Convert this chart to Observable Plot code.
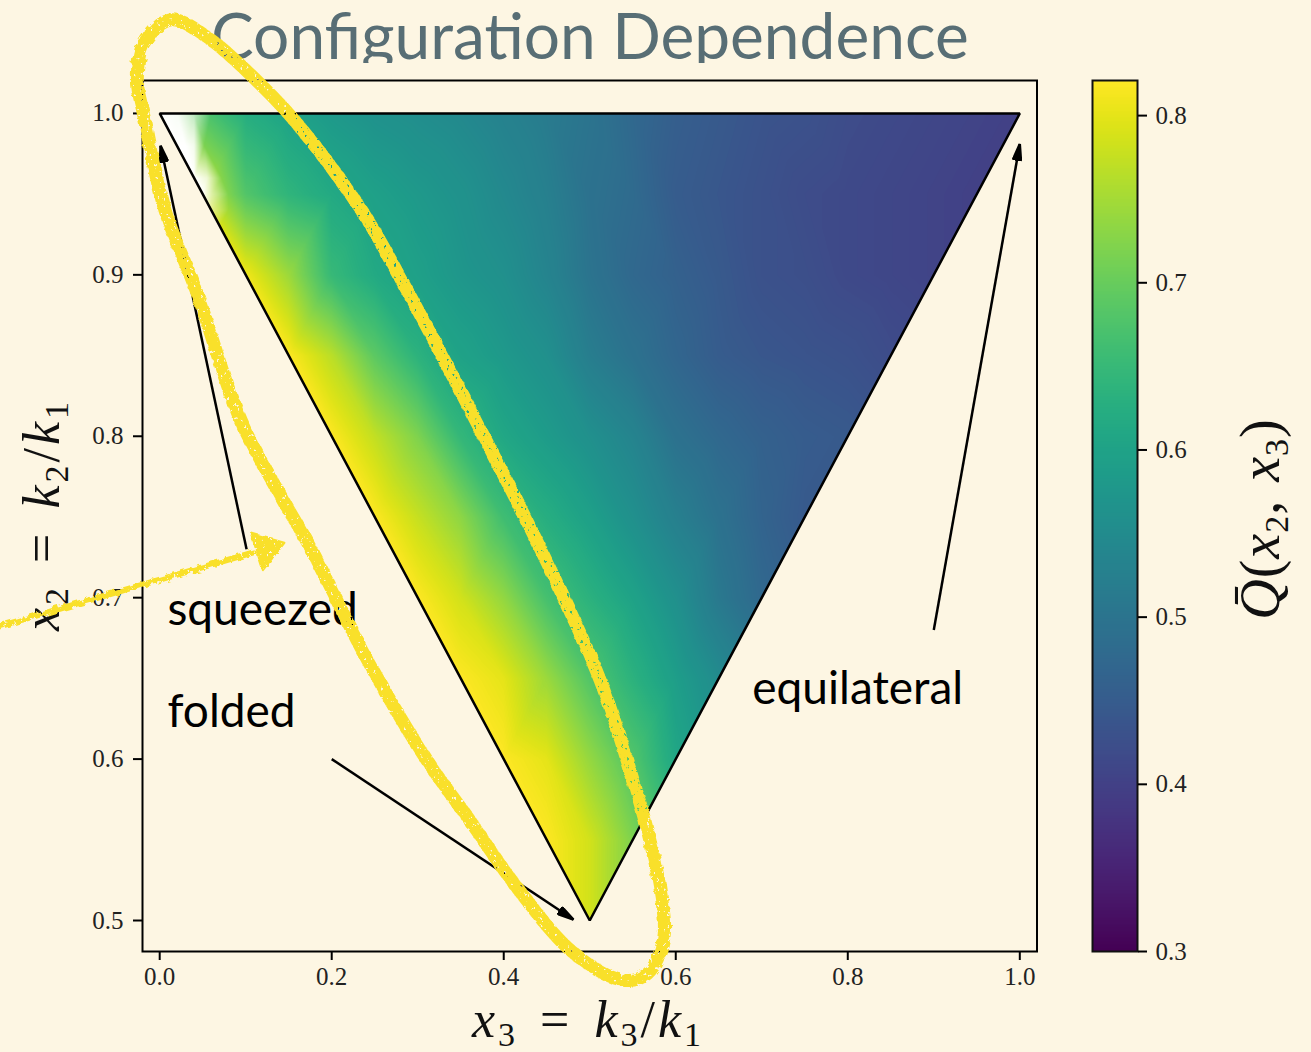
<!DOCTYPE html>
<html>
<head>
<meta charset="utf-8">
<script src="https://cdn.jsdelivr.net/npm/d3@7"></script>
<script src="https://cdn.jsdelivr.net/npm/@observablehq/plot@0.6"></script>
<style>
  html, body { margin: 0; padding: 0; background: #fdf6e3; }
  #page { position: relative; width: 1311px; height: 1052px; overflow: hidden; background: #fdf6e3; }
  #page svg { position: absolute; top: 0; }
  .title { position: absolute; left: 211px; top: 0; height: 63px; overflow: hidden; font: 64px Lato, sans-serif; line-height: 70px; color: #586e75; white-space: nowrap; }
  .math { position: absolute; font-family: "Liberation Serif", serif; font-size: 52px; white-space: nowrap; color: #111; line-height: 1; letter-spacing: 3px; word-spacing: 6px; }
  .math i { font-style: italic; }
  .math sub { font-size: 34px; line-height: 0; vertical-align: -9px; }
  .xl { left: 472px; top: 994px; }
  .yl { left: 42px; top: 515px; transform: translate(-50%, -50%) rotate(-90deg); }
  .cl { left: 1260px; top: 519px; font-size: 56px; letter-spacing: 1px; word-spacing: 3px; transform: translate(-50%, -50%) rotate(-90deg); }
</style>
</head>
<body>
<div id="page">
  <div class="title">Configuration Dependence</div>
  <div class="math xl"><i>x</i><sub>3</sub> = <i>k</i><sub>3</sub>/<i>k</i><sub>1</sub></div>
  <div class="math yl"><i>x</i><sub>2</sub> = <i>k</i><sub>2</sub>/<i>k</i><sub>1</sub></div>
  <div class="math cl"><i>Q&#772;</i>(<i>x</i><sub>2</sub>, <i>x</i><sub>3</sub>)</div>
</div>
<script>
// Q̄, row by row (each row runs x3 = 1 - x2 ... x2 in steps of 0.05)
const rowLevels = [1, 0.95, 0.9, 0.85, 0.8, 0.75, 0.7, 0.65, 0.6, 0.55, 0.5];
const q100 = [.72,.68,.625,.60,.58,.565,.555,.545,.53,.515,.50,.475,.455,.445,.435,.43,.42,.415,.41,.405,.40];
const q095 = [.78,.68,.64,.615,.595,.58,.565,.545,.525,.495,.48,.45,.44,.43,.42,.415,.41,.405,.40];
const q090 = [.81,.744,.65,.615,.595,.575,.56,.535,.50,.475,.46,.445,.43,.425,.415,.41,.405];
const q085 = [.82,.767,.69,.635,.60,.58,.56,.52,.495,.47,.45,.44,.435,.43,.42];
const q080 = [.82,.773,.72,.645,.61,.585,.56,.535,.495,.475,.46,.45,.445];
const q075 = [.82,.776,.732,.66,.625,.595,.56,.525,.495,.465,.445];
const q070 = [.82,.785,.736,.667,.633,.60,.56,.51,.475];
const q065 = [.82,.80,.743,.68,.634,.59,.55];
const q060 = [.82,.80,.738,.68,.61];
const q055 = [.82,.785,.72];
const q050 = [.785];
const rows = [q100,q095,q090,q085,q080,q075,q070,q065,q060,q055,q050];
const samples = rows.flatMap((row, r) => row.map((q, j) => ({
  x3: +(1 - rowLevels[r] + j * 0.05).toFixed(2), x2: rowLevels[r], q
})));

// white (unfilled) corner at the squeezed end
const whiteX3 = [0,.02,.04,.06,.02,.03,.04,.052,.04,.055,.072,.05,.06,.08,.06,.08,.07];
const whiteX2 = [1,1,1,1,.98,.98,.98,.98,.96,.96,.96,.95,.95,.95,.94,.94,.93];
const whiteOp = [1,.95,.6,0,1,1,.9,0,1,.8,0,1,.6,0,.5,0,0];
const whiteSamples = whiteX3.map((x3, i) => ({x3, x2: whiteX2[i], o: whiteOp[i]}));

const triX3 = [0, 1, 0.5];
const triX2 = [1, 1, 0.5];

const arrowFromX3 = [0.101, 0.90, 0.20];
const arrowFromX2 = [0.73, 0.68, 0.60];
const arrowToX3 = [0.001, 1.0, 0.481];
const arrowToX2 = [0.98, 0.981, 0.5006];

const labelText = ["squeezed", "folded", "equilateral"];
const labelX3 = [0.009, 0.009, 0.689];
const labelX2 = [0.683, 0.62, 0.634];

// hand-drawn highlight
const inkX3 = [.013,.056,.121,.164,.237,.288,.373,.443,.512,.551,.567,.582,.586,.567,.539,.481,.416,.358,.311,.242,.172,.144,.094,.044,.005,-.019,-.026,-.019];
const inkX2 = [1.058,1.047,1.016,.991,.938,.89,.804,.73,.649,.586,.556,.519,.489,.467,.463,.48,.52,.564,.599,.661,.734,.76,.81,.888,.942,1.0,1.02,1.043];
const pointerX3 = [-.2,.109];
const pointerX2 = [.68,.728];
const pointerHeadX3 = [.145,.106,.12];
const pointerHeadX2 = [.734,.74,.717];

const xTicks = [0,.2,.4,.6,.8,1];
const yTicks = [.5,.6,.7,.8,.9,1];
const barTicks = [.3,.4,.5,.6,.7,.8];

const INK = "#f9e02c";
const rough = (i, s, v, d, c, next) => { const g = next(i, s, v, d, c); g.setAttribute("filter", "url(#rough)"); return g; };
// the barycentric raster fills the whole frame: keep only the triangle
const clipTri = (i, s, v, d, c, next) => { const g = next(i, s, v, d, c); g.setAttribute("clip-path", "url(#tri)"); return g; };
const colorScale = {type: "linear", scheme: "viridis", domain: [.3, .821], clamp: true};

function head(color, context) {
  const ns = "http://www.w3.org/2000/svg";
  const m = context.document.createElementNS(ns, "marker");
  m.setAttribute("viewBox", "0 0 18 10");
  m.setAttribute("markerWidth", 18);
  m.setAttribute("markerHeight", 10);
  m.setAttribute("refX", 17);
  m.setAttribute("refY", 5);
  m.setAttribute("markerUnits", "userSpaceOnUse");
  m.setAttribute("orient", "auto");
  const p = context.document.createElementNS(ns, "path");
  p.setAttribute("d", "M1,1 L17,5 L1,9 z");
  p.setAttribute("fill", color);
  m.appendChild(p);
  return m;
}

const main = Plot.plot({
  width: 1311, height: 1052,
  marginLeft: 142, marginRight: 274.5, marginTop: 80, marginBottom: 101,
  style: {background: "transparent", fontFamily: "'Liberation Serif', serif"},
  x: {domain: [-.02, 1.02], axis: null},
  y: {domain: [.4808, 1.0204], axis: null},
  color: colorScale,
  marks: [
    Plot.raster(samples, {x: "x3", y: "x2", fill: "q", interpolate: "barycentric", render: clipTri}),
    Plot.raster(whiteSamples, {x: "x3", y: "x2", fill: "white", fillOpacity: "o", interpolate: "barycentric", render: clipTri}),
    Plot.line(triX3, {x: triX3, y: triX2, curve: "linear-closed", stroke: "#000", strokeWidth: 2.5, strokeLinejoin: "miter"}),
    Plot.frame({stroke: "#000", strokeWidth: 2}),
    Plot.axisX({ticks: xTicks, tickSize: 9, tickPadding: 7, fontSize: 25, tickFormat: ".1f", label: null, stroke: "#000", strokeWidth: 2, fill: "#222"}),
    Plot.axisY({ticks: yTicks, tickSize: 9, tickPadding: 10, fontSize: 25, tickFormat: ".1f", label: null, stroke: "#000", strokeWidth: 2, fill: "#222"}),
    Plot.link(arrowFromX3, {x1: arrowFromX3, y1: arrowFromX2, x2: arrowToX3, y2: arrowToX2, stroke: "#000", strokeWidth: 2.5, markerEnd: head}),
    Plot.text(labelText, {x: labelX3, y: labelX2, text: labelText, textAnchor: "start", lineAnchor: "bottom", fontSize: 46, fontFamily: "Lato, sans-serif", fill: "#000"}),
    Plot.line(inkX3, {x: inkX3, y: inkX2, curve: "catmull-rom-closed", stroke: INK, strokeWidth: 13, render: rough}),
    Plot.line(pointerX3, {x: pointerX3, y: pointerX2, stroke: INK, strokeWidth: 6, render: rough}),
    Plot.line(pointerHeadX3, {x: pointerHeadX3, y: pointerHeadX2, curve: "linear-closed", stroke: INK, fill: INK, strokeWidth: 2, render: rough})
  ]
});

const bar = Plot.plot({
  width: 251, height: 1052,
  marginLeft: 32, marginRight: 174, marginTop: 80, marginBottom: 101,
  style: {background: "transparent", fontFamily: "'Liberation Serif', serif"},
  x: {domain: [0, 1], axis: null},
  y: {domain: [.3, .821], axis: null},
  color: colorScale,
  marks: [
    Plot.raster({x1: 0, x2: 1, y1: .3, y2: .821, fill: (x, y) => y}),
    Plot.frame({stroke: "#111", strokeWidth: 2}),
    Plot.axisY({anchor: "right", ticks: barTicks, tickSize: 9, tickPadding: 9, fontSize: 25, tickFormat: ".1f", label: null, stroke: "#000", strokeWidth: 2, fill: "#222"})
  ]
});
bar.style.left = "1060px";

const page = document.getElementById("page");
page.appendChild(bar);
page.appendChild(main);
main.style.left = "0px";

const defs = d3.select(main).append("defs");
const sx = main.scale("x"), sy = main.scale("y");
defs.append("clipPath").attr("id", "tri").append("polygon")
  .attr("points", triX3.map((x, k) => `${sx.apply(x)},${sy.apply(triX2[k])}`).join(" "));
const f = defs.append("filter").attr("id", "rough").attr("filterUnits", "userSpaceOnUse")
  .attr("x", 0).attr("y", 0).attr("width", 1311).attr("height", 1052);
f.append("feTurbulence").attr("type", "fractalNoise").attr("baseFrequency", 0.14).attr("numOctaves", 3).attr("seed", 4).attr("result", "n");
f.append("feDisplacementMap").attr("in", "SourceGraphic").attr("in2", "n").attr("scale", 6).attr("result", "d");
f.append("feTurbulence").attr("type", "fractalNoise").attr("baseFrequency", 0.3).attr("numOctaves", 2).attr("seed", 9).attr("result", "s");
f.append("feColorMatrix").attr("in", "s").attr("type", "matrix").attr("values", "0 0 0 0 0  0 0 0 0 0  0 0 0 0 0  -16 0 0 0 11.8").attr("result", "m");
f.append("feComposite").attr("in", "d").attr("in2", "m").attr("operator", "in");
</script>
</body>
</html>
